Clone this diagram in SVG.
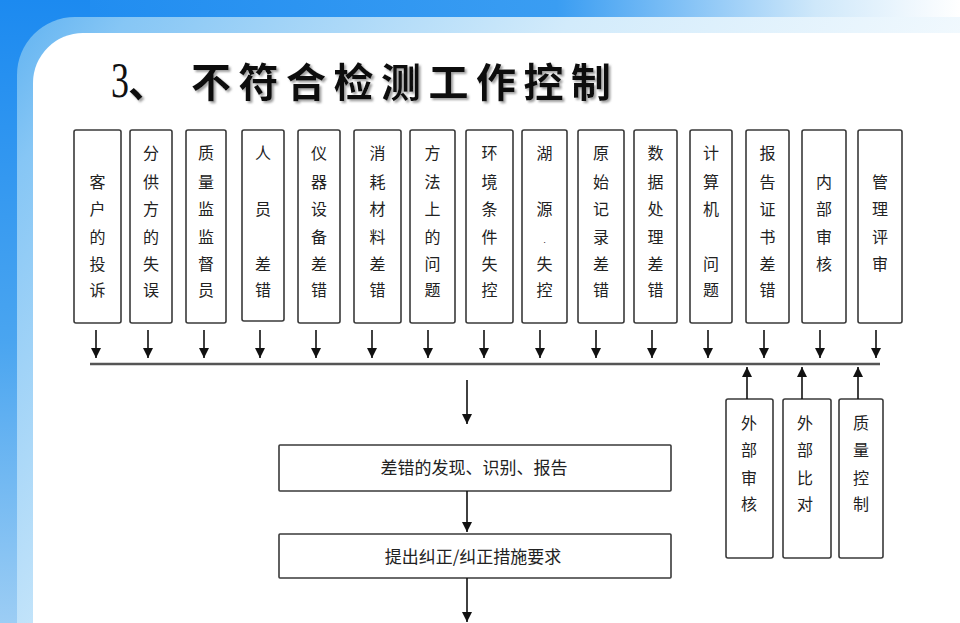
<svg xmlns="http://www.w3.org/2000/svg" width="960" height="623" viewBox="0 0 960 623">
  <defs>
    <linearGradient id="topStrip" x1="0" y1="0" x2="960" y2="0" gradientUnits="userSpaceOnUse">
      <stop offset="0" stop-color="#1c8af0"/>
      <stop offset="0.58" stop-color="#3a9df2"/>
      <stop offset="0.85" stop-color="#cfe8fa"/>
      <stop offset="1" stop-color="#ffffff"/>
    </linearGradient>
    <linearGradient id="leftStrip" x1="0" y1="0" x2="0" y2="623" gradientUnits="userSpaceOnUse">
      <stop offset="0" stop-color="#1c8af0"/>
      <stop offset="0.55" stop-color="#4aa5f0"/>
      <stop offset="1" stop-color="#9ccdf4"/>
    </linearGradient>
    <linearGradient id="band" x1="0" y1="0" x2="760" y2="560" gradientUnits="userSpaceOnUse">
      <stop offset="0" stop-color="#58aef0"/>
      <stop offset="0.12" stop-color="#86c6f5"/>
      <stop offset="0.5" stop-color="#d2ebfb"/>
      <stop offset="1" stop-color="#ffffff"/>
    </linearGradient>
    <filter id="shadow" x="-5%" y="-20%" width="110%" height="150%">
      <feDropShadow dx="2" dy="2" stdDeviation="1.2" flood-color="#888888" flood-opacity="0.8"/>
    </filter>
    <marker id="ah" viewBox="0 0 10 10" refX="10" refY="5" markerWidth="10" markerHeight="10" markerUnits="userSpaceOnUse" orient="auto">
      <path d="M0,0 L10,5 L0,10 Z" fill="#111"/>
    </marker>
  </defs>
  <style>
    .box { fill: #ffffff; stroke: #3a3a3a; stroke-width: 1.6; }
    .vt { font-family: "Noto Sans CJK SC", "Noto Sans", sans-serif; font-size: 16px; fill: #222; text-anchor: middle; }
    .ht { font-family: "Noto Sans CJK SC", "Noto Sans", sans-serif; font-size: 17px; fill: #222; text-anchor: middle; }
    .arr { stroke: #111; stroke-width: 1.6; fill: none; marker-end: url(#ah); }
    .bus { stroke: #555; stroke-width: 2.5; fill: none; }
  </style>

  <!-- background -->
  <rect x="0" y="0" width="960" height="623" fill="#ffffff"/>
  <rect x="0" y="0" width="960" height="90" fill="url(#topStrip)"/>
  <rect x="0" y="0" width="90" height="623" fill="url(#leftStrip)"/>
  <rect x="17" y="17" width="1100" height="800" rx="58" fill="url(#band)"/>
  <rect x="33" y="33" width="1100" height="800" rx="50" fill="#ffffff"/>

  <!-- title -->
  <g id="title">
    <text x="0" y="0" font-family="Liberation Serif, serif" font-size="50" fill="#111" transform="translate(111 97) scale(0.72 1)">3</text>
    <g filter="url(#shadow)">
      <text x="128" y="97" font-family="Noto Sans CJK SC, sans-serif" font-size="40" font-weight="700" fill="#111">、</text>
      <text x="191" y="97" font-family="Noto Sans CJK SC, sans-serif" font-size="40" font-weight="700" letter-spacing="7.5" fill="#111">不符合检测工作控制</text>
    </g>
  </g>

  <!-- top row nodes -->
  <g id="n1"><rect class="box" x="74" y="130" width="47" height="193" rx="2"/>
    <text class="vt" x="97.5"><tspan y="187.5">客</tspan><tspan x="97.5" y="214.5">户</tspan><tspan x="97.5" y="242.5">的</tspan><tspan x="97.5" y="269.5">投</tspan><tspan x="97.5" y="296">诉</tspan></text></g>
  <g id="n2"><rect class="box" x="130" y="130" width="42" height="193" rx="2"/>
    <text class="vt" x="151"><tspan y="159">分</tspan><tspan x="151" y="187.5">供</tspan><tspan x="151" y="214.5">方</tspan><tspan x="151" y="242.5">的</tspan><tspan x="151" y="269.5">失</tspan><tspan x="151" y="296">误</tspan></text></g>
  <g id="n3"><rect class="box" x="186" y="130" width="40" height="193" rx="2"/>
    <text class="vt" x="206"><tspan y="159">质</tspan><tspan x="206" y="187.5">量</tspan><tspan x="206" y="214.5">监</tspan><tspan x="206" y="242.5">监</tspan><tspan x="206" y="269.5">督</tspan><tspan x="206" y="296">员</tspan></text></g>
  <g id="n4"><rect class="box" x="242" y="130" width="42" height="191" rx="2"/>
    <text class="vt" x="263"><tspan y="159">人</tspan><tspan x="263" y="214.5">员</tspan><tspan x="263" y="269.5">差</tspan><tspan x="263" y="296">错</tspan></text></g>
  <g id="n5"><rect class="box" x="298" y="130" width="42" height="193" rx="2"/>
    <text class="vt" x="319"><tspan y="159">仪</tspan><tspan x="319" y="187.5">器</tspan><tspan x="319" y="214.5">设</tspan><tspan x="319" y="242.5">备</tspan><tspan x="319" y="269.5">差</tspan><tspan x="319" y="296">错</tspan></text></g>
  <g id="n6"><rect class="box" x="354" y="130" width="47" height="193" rx="2"/>
    <text class="vt" x="377.5"><tspan y="159">消</tspan><tspan x="377.5" y="187.5">耗</tspan><tspan x="377.5" y="214.5">材</tspan><tspan x="377.5" y="242.5">料</tspan><tspan x="377.5" y="269.5">差</tspan><tspan x="377.5" y="296">错</tspan></text></g>
  <g id="n7"><rect class="box" x="410" y="130" width="45" height="193" rx="2"/>
    <text class="vt" x="432.5"><tspan y="159">方</tspan><tspan x="432.5" y="187.5">法</tspan><tspan x="432.5" y="214.5">上</tspan><tspan x="432.5" y="242.5">的</tspan><tspan x="432.5" y="269.5">问</tspan><tspan x="432.5" y="296">题</tspan></text></g>
  <g id="n8"><rect class="box" x="466" y="130" width="47" height="193" rx="2"/>
    <text class="vt" x="489.5"><tspan y="159">环</tspan><tspan x="489.5" y="187.5">境</tspan><tspan x="489.5" y="214.5">条</tspan><tspan x="489.5" y="242.5">件</tspan><tspan x="489.5" y="269.5">失</tspan><tspan x="489.5" y="296">控</tspan></text></g>
  <g id="n9"><rect class="box" x="522" y="130" width="45" height="193" rx="2"/>
    <text class="vt" x="544.5"><tspan y="159">湖</tspan><tspan x="544.5" y="214.5">源</tspan><tspan x="544.5" y="242.5" font-size="8">.</tspan><tspan x="544.5" y="269.5">失</tspan><tspan x="544.5" y="296">控</tspan></text></g>
  <g id="n10"><rect class="box" x="578" y="130" width="46" height="193" rx="2"/>
    <text class="vt" x="601"><tspan y="159">原</tspan><tspan x="601" y="187.5">始</tspan><tspan x="601" y="214.5">记</tspan><tspan x="601" y="242.5">录</tspan><tspan x="601" y="269.5">差</tspan><tspan x="601" y="296">错</tspan></text></g>
  <g id="n11"><rect class="box" x="634" y="130" width="43" height="193" rx="2"/>
    <text class="vt" x="655.5"><tspan y="159">数</tspan><tspan x="655.5" y="187.5">据</tspan><tspan x="655.5" y="214.5">处</tspan><tspan x="655.5" y="242.5">理</tspan><tspan x="655.5" y="269.5">差</tspan><tspan x="655.5" y="296">错</tspan></text></g>
  <g id="n12"><rect class="box" x="690" y="130" width="42" height="193" rx="2"/>
    <text class="vt" x="711"><tspan y="159">计</tspan><tspan x="711" y="187.5">算</tspan><tspan x="711" y="214.5">机</tspan><tspan x="711" y="269.5">问</tspan><tspan x="711" y="296">题</tspan></text></g>
  <g id="n13"><rect class="box" x="746" y="130" width="43" height="193" rx="2"/>
    <text class="vt" x="767.5"><tspan y="159">报</tspan><tspan x="767.5" y="187.5">告</tspan><tspan x="767.5" y="214.5">证</tspan><tspan x="767.5" y="242.5">书</tspan><tspan x="767.5" y="269.5">差</tspan><tspan x="767.5" y="296">错</tspan></text></g>
  <g id="n14"><rect class="box" x="802" y="130" width="44" height="193" rx="2"/>
    <text class="vt" x="824"><tspan y="187.5">内</tspan><tspan x="824" y="214.5">部</tspan><tspan x="824" y="242.5">审</tspan><tspan x="824" y="269.5">核</tspan></text></g>
  <g id="n15"><rect class="box" x="858" y="130" width="44" height="193" rx="2"/>
    <text class="vt" x="880"><tspan y="187.5">管</tspan><tspan x="880" y="214.5">理</tspan><tspan x="880" y="242.5">评</tspan><tspan x="880" y="269.5">审</tspan></text></g>

  <!-- bottom-right nodes -->
  <g id="ext1"><rect class="box" x="726" y="399" width="47" height="159" rx="2"/>
    <text class="vt" x="749"><tspan y="428.5">外</tspan><tspan x="749" y="456">部</tspan><tspan x="749" y="483.5">审</tspan><tspan x="749" y="510">核</tspan></text></g>
  <g id="ext2"><rect class="box" x="783" y="399" width="48" height="159" rx="2"/>
    <text class="vt" x="805"><tspan y="428.5">外</tspan><tspan x="805" y="456">部</tspan><tspan x="805" y="483.5">比</tspan><tspan x="805" y="510">对</tspan></text></g>
  <g id="ext3"><rect class="box" x="839" y="399" width="44" height="159" rx="2"/>
    <text class="vt" x="861"><tspan y="428.5">质</tspan><tspan x="861" y="456">量</tspan><tspan x="861" y="483.5">控</tspan><tspan x="861" y="510">制</tspan></text></g>

  <!-- flow nodes -->
  <g id="find"><rect class="box" x="279" y="445" width="392" height="46" rx="1"/>
    <text class="ht" x="474" y="474">差错的发现、识别、报告</text></g>
  <g id="correct"><rect class="box" x="279" y="534" width="392" height="44" rx="1"/>
    <text class="ht" x="473" y="563">提出纠正/纠正措施要求</text></g>

  <!-- connectors -->
  <g id="connectors">
    <line class="arr" x1="96" y1="330" x2="96" y2="358"/>
    <line class="arr" x1="148" y1="330" x2="148" y2="358"/>
    <line class="arr" x1="204" y1="330" x2="204" y2="358"/>
    <line class="arr" x1="260" y1="330" x2="260" y2="358"/>
    <line class="arr" x1="316" y1="330" x2="316" y2="358"/>
    <line class="arr" x1="372" y1="330" x2="372" y2="358"/>
    <line class="arr" x1="428" y1="330" x2="428" y2="358"/>
    <line class="arr" x1="484" y1="330" x2="484" y2="358"/>
    <line class="arr" x1="540" y1="330" x2="540" y2="358"/>
    <line class="arr" x1="596" y1="330" x2="596" y2="358"/>
    <line class="arr" x1="652" y1="330" x2="652" y2="358"/>
    <line class="arr" x1="708" y1="330" x2="708" y2="358"/>
    <line class="arr" x1="764" y1="330" x2="764" y2="358"/>
    <line class="arr" x1="820" y1="330" x2="820" y2="358"/>
    <line class="arr" x1="876" y1="330" x2="876" y2="358"/>
    <line class="bus" x1="90" y1="364" x2="880" y2="364"/>
    <line class="arr" x1="747" y1="399" x2="747" y2="367"/>
    <line class="arr" x1="802" y1="399" x2="802" y2="367"/>
    <line class="arr" x1="858" y1="399" x2="858" y2="367"/>
    <line class="arr" x1="467" y1="380" x2="467" y2="424"/>
    <line class="arr" x1="467" y1="491" x2="467" y2="532"/>
    <line class="arr" x1="467" y1="578" x2="467" y2="622"/>
  </g>
</svg>
